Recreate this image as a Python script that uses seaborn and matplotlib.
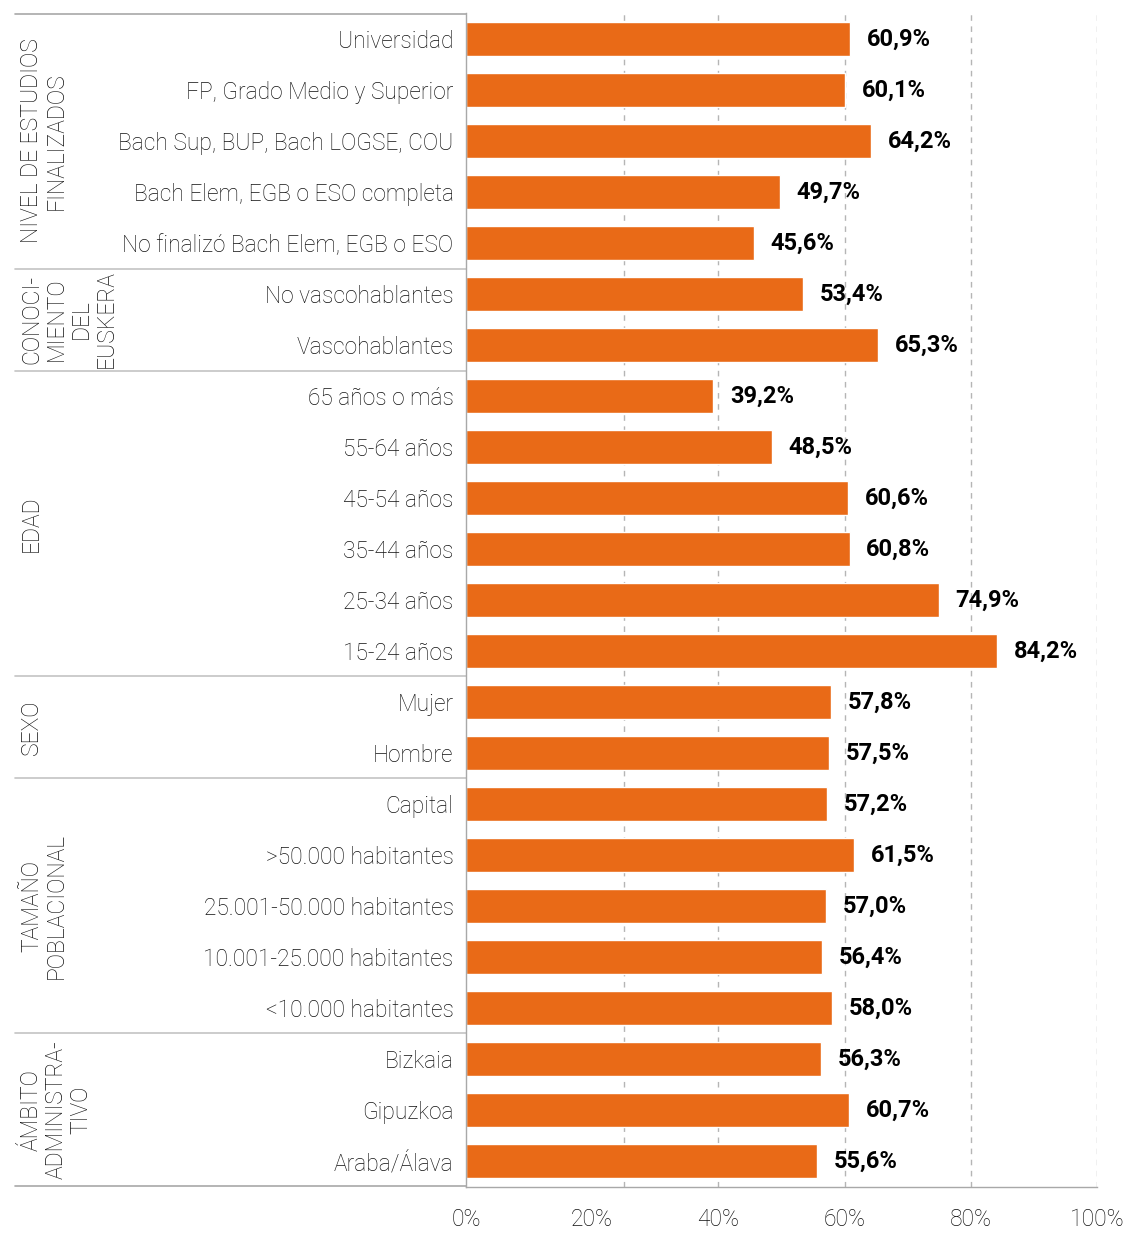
import matplotlib
matplotlib.use("Agg")
import matplotlib.pyplot as plt
import pandas as pd
import seaborn as sns

# grupos y categorias (de arriba a abajo)
groups = [
    "NIVEL DE ESTUDIOS\nFINALIZADOS",
    "CONOCI-\nMIENTO\nDEL\nEUSKERA",
    "EDAD",
    "SEXO",
    "TAMAÑO\nPOBLACIONAL",
    "ÁMBITO\nADMINISTRA-\nTIVO",
]
estudios = ["Universidad", "FP, Grado Medio y Superior", "Bach Sup, BUP, Bach LOGSE, COU",
            "Bach Elem, EGB o ESO completa", "No finalizó Bach Elem, EGB o ESO"]
euskera = ["No vascohablantes", "Vascohablantes"]
edad = ["65 años o más", "55-64 años", "45-54 años", "35-44 años", "25-34 años", "15-24 años"]
sexo = ["Mujer", "Hombre"]
tamano = ["Capital", ">50.000 habitantes", "25.001-50.000 habitantes",
          "10.001-25.000 habitantes", "<10.000 habitantes"]
ambito = ["Bizkaia", "Gipuzkoa", "Araba/Álava"]

v_estudios = [60.9, 60.1, 64.2, 49.7, 45.6]
v_euskera = [53.4, 65.3]
v_edad = [39.2, 48.5, 60.6, 60.8, 74.9, 84.2]
v_sexo = [57.8, 57.5]
v_tamano = [57.2, 61.5, 57.0, 56.4, 58.0]
v_ambito = [56.3, 60.7, 55.6]

xticks = [0, 20, 40, 60, 80, 100]
gridlines = [25, 40, 60, 80, 100]

cats = [estudios, euskera, edad, sexo, tamano, ambito]
vals = [v_estudios, v_euskera, v_edad, v_sexo, v_tamano, v_ambito]

df = pd.DataFrame({
    "cat": [c for grp in cats for c in grp],
    "val": [v for grp in vals for v in grp],
})

sns.set_style("white")
plt.rcParams["font.family"] = ["Roboto", "DejaVu Sans"]

orange = "#E96A17"
grey = "#A8A8A8"
txt = "#111111"

fig = plt.figure(figsize=(11.29, 12.53), dpi=100)
ax = fig.add_axes([466 / 1129, 1 - 1187 / 1253, 631 / 1129, 1174 / 1253])

sns.barplot(data=df, x="val", y="cat", orient="h", color=orange, width=0.67,
            saturation=1, ax=ax)

n = len(df)
ax.set_xlim(0, 100)
ax.set_ylim(n - 1 + 0.51, -0.51)
ax.set_xlabel("")
ax.set_ylabel("")

# etiquetas de valor
ax.bar_label(ax.containers[0],
             labels=[f"{v:.1f}%".replace(".", ",") for v in df["val"]],
             padding=12, fontsize=17, fontweight="bold", color="#000000")

# rejilla discontinua
for g in gridlines:
    ax.axvline(g, color="#B5B5B5", lw=1, ls=(0, (4, 4)), zorder=0)

ax.set_xticks(xticks)
ax.set_xticklabels([f"{t}%" for t in xticks])
ax.set_xticks([0, 25, 40], minor=True)
ax.tick_params(axis="x", which="major", length=0, pad=15, labelsize=16.5, labelcolor=txt)
ax.tick_params(axis="x", which="minor", length=5, color="#B5B5B5", width=1)
ax.tick_params(axis="y", length=0, pad=9, labelsize=16.4, labelcolor=txt)
for lab in ax.get_xticklabels() + ax.get_yticklabels():
    lab.set_fontweight("light")

for s in ["top", "right"]:
    ax.spines[s].set_visible(False)
ax.spines["left"].set_color(grey)
ax.spines["bottom"].set_color(grey)
ax.spines["left"].set_linewidth(1)
ax.spines["bottom"].set_linewidth(1)

# separadores y titulos de grupo
trans = ax.get_yaxis_transform()
x0 = (15 - 466) / 631
bounds = [-0.5]
for grp in cats:
    bounds.append(bounds[-1] + len(grp))
for b in bounds:
    ax.plot([x0, 0], [b, b], color="#C4C4C4" if b not in (bounds[0], bounds[-1]) else grey,
            lw=1.2, transform=trans, clip_on=False)
for i, name in enumerate(groups):
    yc = (bounds[i] + bounds[i + 1]) / 2
    ax.text((20 - 466) / 631, yc, name, transform=trans, rotation=90,
            ha="left", va="center", multialignment="center",
            fontsize=16.5, fontweight="light", color=txt, linespacing=1.1)

fig.savefig("out.png", dpi=100)
